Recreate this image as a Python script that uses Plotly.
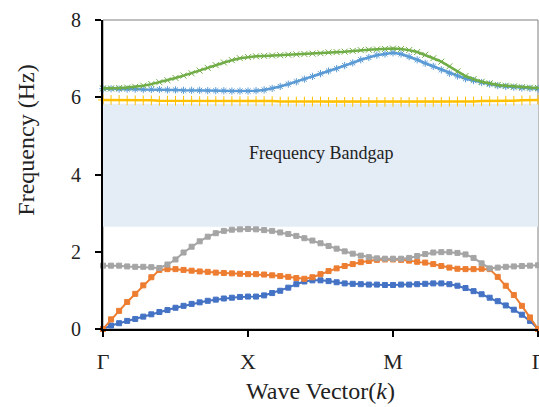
import plotly.graph_objects as go

# ---- data ----
n_per_seg = 18
k_points = [i / n_per_seg for i in range(3 * n_per_seg + 1)]
tick_vals = [0, 1, 2, 3]
tick_text = ["Γ", "X", "M", "Γ"]
y_ticks = [0, 2, 4, 6, 8]

band1 = [0, 0.09, 0.15, 0.21, 0.26, 0.32, 0.38, 0.44, 0.49, 0.55, 0.60, 0.65, 0.69, 0.73, 0.76, 0.79, 0.81, 0.83, 0.84,
         0.84, 0.87, 0.93, 0.99, 1.07, 1.16, 1.23, 1.26, 1.26, 1.24, 1.21, 1.18, 1.17, 1.16, 1.15, 1.15, 1.14, 1.14,
         1.15, 1.15, 1.16, 1.17, 1.18, 1.18, 1.16, 1.12, 1.06, 0.98, 0.90, 0.81, 0.72, 0.61, 0.50, 0.37, 0.21, 0.0]
band2 = [0, 0.25, 0.47, 0.70, 0.91, 1.13, 1.34, 1.53, 1.55, 1.55, 1.53, 1.51, 1.49, 1.48, 1.46, 1.45, 1.44, 1.43, 1.42,
         1.42, 1.41, 1.39, 1.37, 1.35, 1.32, 1.30, 1.34, 1.42, 1.50, 1.57, 1.63, 1.68, 1.73, 1.76, 1.79, 1.80, 1.80,
         1.79, 1.77, 1.74, 1.72, 1.68, 1.63, 1.59, 1.56, 1.55, 1.55, 1.56, 1.55, 1.35, 1.12, 0.88, 0.60, 0.30, 0.0]
band3 = [1.64, 1.64, 1.64, 1.62, 1.61, 1.61, 1.60, 1.58, 1.67, 1.80, 1.98, 2.13, 2.27, 2.39, 2.48, 2.54, 2.57, 2.58, 2.59,
         2.58, 2.56, 2.54, 2.50, 2.46, 2.41, 2.35, 2.29, 2.22, 2.15, 2.08, 2.01, 1.95, 1.90, 1.86, 1.83, 1.82, 1.82,
         1.82, 1.84, 1.89, 1.94, 1.98, 1.99, 1.99, 1.97, 1.93, 1.84, 1.70, 1.57, 1.59, 1.61, 1.62, 1.63, 1.64, 1.65]
band4 = [5.93, 5.93, 5.93, 5.92, 5.92, 5.92, 5.92, 5.91, 5.91, 5.91, 5.91, 5.91, 5.90, 5.90, 5.90, 5.90, 5.90, 5.90, 5.90,
         5.90, 5.90, 5.90, 5.89, 5.89, 5.89, 5.89, 5.89, 5.89, 5.88, 5.88, 5.88, 5.88, 5.88, 5.88, 5.88, 5.88, 5.88,
         5.88, 5.88, 5.88, 5.88, 5.88, 5.88, 5.89, 5.89, 5.89, 5.89, 5.90, 5.90, 5.90, 5.91, 5.91, 5.92, 5.92, 5.93]
band5 = [6.22, 6.22, 6.21, 6.21, 6.21, 6.20, 6.20, 6.20, 6.19, 6.19, 6.18, 6.18, 6.18, 6.17, 6.17, 6.17, 6.16, 6.16, 6.16,
         6.17, 6.19, 6.23, 6.28, 6.34, 6.40, 6.47, 6.54, 6.61, 6.68, 6.74, 6.82, 6.89, 6.97, 7.03, 7.09, 7.12, 7.15,
         7.12, 7.05, 6.97, 6.88, 6.80, 6.71, 6.62, 6.55, 6.48, 6.43, 6.38, 6.34, 6.30, 6.28, 6.26, 6.24, 6.23, 6.22]
band6 = [6.23, 6.23, 6.24, 6.25, 6.27, 6.30, 6.34, 6.39, 6.44, 6.50, 6.56, 6.62, 6.69, 6.76, 6.83, 6.90, 6.96, 7.01, 7.04,
         7.06, 7.07, 7.08, 7.09, 7.10, 7.11, 7.12, 7.13, 7.14, 7.16, 7.17, 7.18, 7.20, 7.22, 7.23, 7.24, 7.25, 7.26,
         7.25, 7.22, 7.17, 7.10, 7.01, 6.92, 6.80, 6.67, 6.55, 6.47, 6.40, 6.36, 6.32, 6.30, 6.28, 6.26, 6.25, 6.24]

gap_low, gap_high = 2.65, 5.83
gap_label = "Frequency Bandgap"

FONT = "Liberation Serif, Times New Roman, serif"

fig = go.Figure()

series = [
    (band1, "#4472C4", "square", 5, 2),
    (band2, "#ED7D31", "square", 5, 2),
    (band3, "#A5A5A5", "square", 5, 2),
    (band4, "#FFC000", "cross-thin-open", 7, 2.5),
    (band5, "#5B9BD5", "asterisk-open", 6, 2.5),
    (band6, "#70AD47", "x-thin-open", 6, 2.5),
]
for vals, col, sym, ms, lw in series:
    fig.add_trace(go.Scatter(
        x=k_points, y=vals, mode="lines+markers",
        line=dict(color=col, width=lw),
        marker=dict(symbol=sym, size=ms, color=col, line=dict(color=col, width=1)),
        cliponaxis=False, showlegend=False,
    ))

# bandgap shading
fig.add_shape(type="rect", xref="x", yref="y", x0=0, x1=3, y0=gap_low, y1=gap_high,
              fillcolor="#E4ECF6", line=dict(width=0), layer="below")
# thin frame
fig.add_shape(type="rect", xref="paper", yref="paper", x0=0, x1=1, y0=0, y1=1,
              line=dict(color="#7f7f7f", width=1), layer="below")

fig.add_annotation(x=1.5, y=4.56, xref="x", yref="y", text=gap_label,
                   showarrow=False, font=dict(family=FONT, size=18, color="#222"))

fig.add_annotation(x=-0.179, y=0.61, xref="paper", yref="paper", text="Frequency (Hz)",
                   xanchor="center", yanchor="middle",
                   textangle=-90, showarrow=False, font=dict(family=FONT, size=24, color="#222"))
fig.add_annotation(x=0.499, y=-0.2, xref="paper", yref="paper", text="Wave Vector(<i>k</i>)",
                   xanchor="center", yanchor="middle",
                   showarrow=False, font=dict(family=FONT, size=24, color="#222"))

fig.update_xaxes(range=[0, 3], tickvals=tick_vals, ticktext=tick_text, showgrid=False, zeroline=False,
                 showline=True, linecolor="black", linewidth=2, ticks="outside", ticklen=6,
                 tickcolor="black", tickwidth=1.5, ticklabelstandoff=6, ticklabeloverflow="allow",
                 automargin=False,
                 tickfont=dict(family=FONT, size=22, color="#222"))
fig.update_yaxes(range=[0, 8], tickvals=y_ticks, showgrid=False, zeroline=False,
                 showline=True, linecolor="black", linewidth=2, ticks="outside", ticklen=6,
                 tickcolor="black", tickwidth=1.5, ticklabelstandoff=10, automargin=False,
                 tickfont=dict(family=FONT, size=20, color="#222"))

fig.update_layout(width=539, height=407, margin=dict(l=103, r=1, t=20, b=78, autoexpand=False),
                  plot_bgcolor="white", paper_bgcolor="white")

fig.write_html("out.html")
